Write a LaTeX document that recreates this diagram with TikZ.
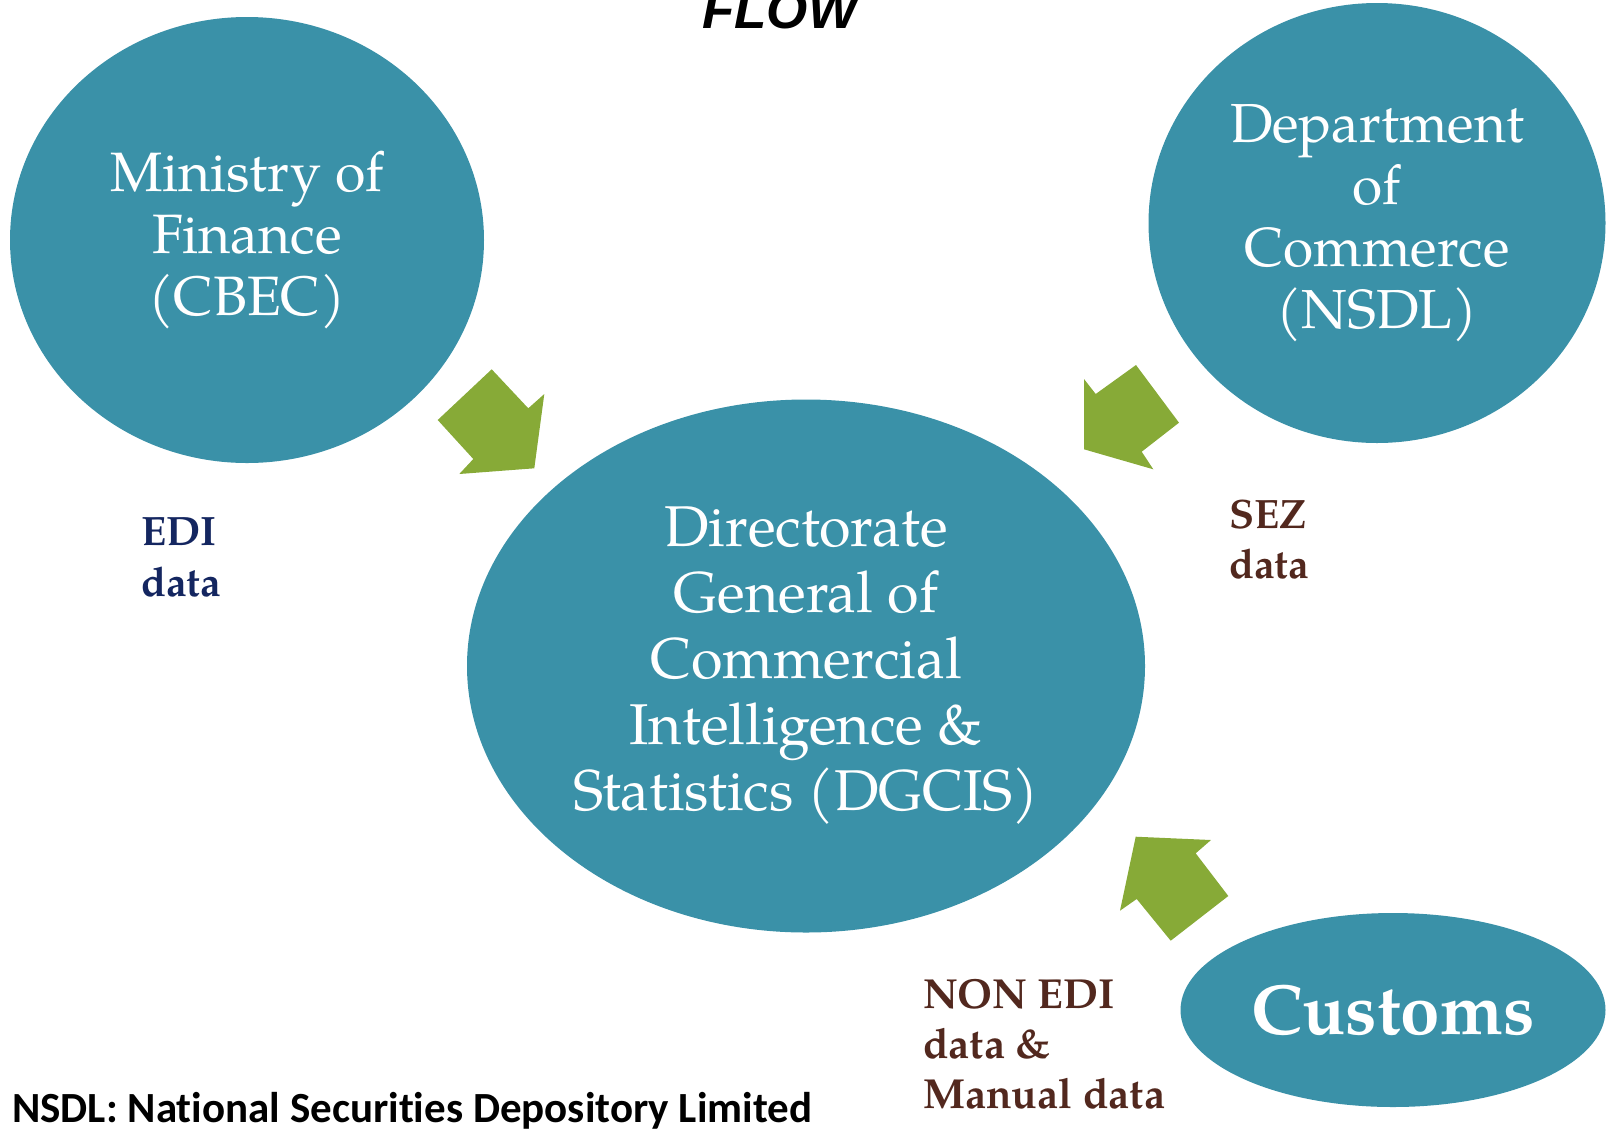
\documentclass[tikz,border=0pt]{standalone}
\usepackage{fontspec}
\usepackage{tikz}
\usetikzlibrary{shapes.geometric}
\newfontfamily\palfont{TeX Gyre Pagella}
\newfontfamily\flowfont{Liberation Sans}
\newfontfamily\notefont{Carlito}[Ligatures=NoCommon]
\definecolor{bubbleteal}{RGB}{58,145,168}
\definecolor{arrowgreen}{RGB}{135,170,55}
\definecolor{edinavy}{RGB}{20,38,96}
\definecolor{sezbrown}{RGB}{82,40,30}

\begin{document}
\begin{tikzpicture}[x=1pt, y=-1pt,
	bubble/.style={ellipse, fill=bubbleteal, text=white, inner sep=0pt, align=center},
	datalabel/.style={inner sep=0pt, align=left, anchor=west},
	blockarrow/.style={fill=arrowgreen}]
	\useasboundingbox (0,0) rectangle (1606,1128);
	\clip (0,0) rectangle (1606,1128);

	\node[anchor=base, inner sep=0pt, font=\flowfont\bfseries\itshape\fontsize{53}{60}\selectfont] (title) at (780,28) {FLOW};

	\node[bubble, minimum width=474, minimum height=446, font=\palfont\fontsize{55.5}{62}\selectfont] (finance) at (247,240) {Ministry of\\Finance\\(CBEC)};
	\node[bubble, minimum width=457, minimum height=440, font=\palfont\fontsize{55}{62}\selectfont] (commerce) at (1377,223) {Department\\of\\Commerce\\(NSDL)};
	\node[bubble, minimum width=678, minimum height=533, font=\palfont\fontsize{57.5}{66}\selectfont] (dgcis) at (806,666) {Directorate\\General of\\Commercial\\Intelligence \&\\Statistics (DGCIS)};
	\node[bubble, minimum width=425, minimum height=194, font=\palfont\bfseries\fontsize{71}{80}\selectfont] (customs) at (1393,1010) {Customs};

	\fill[blockarrow] (491.7,369.3) -- (528.3,408.3) -- (544.3,394) -- (534.3,468.3) -- (459.3,474) -- (473.3,459) -- (437.7,420) -- cycle;
	\fill[blockarrow] (1136,365) -- (1179,422.7) -- (1141.7,451.7) -- (1153.3,469.3) -- (1084,449.3) -- (1084,379) -- (1095.7,394) -- cycle;
	\fill[blockarrow] (1135.7,836.7) -- (1211,840) -- (1195.7,853.3) -- (1228.3,896) -- (1170.7,940.7) -- (1136.7,899) -- (1120,910.7) -- cycle;

	\node[datalabel, text=edinavy, font=\palfont\bfseries\fontsize{41}{51}\selectfont] (edi) at (141,557) {EDI\\data};
	\node[datalabel, text=sezbrown, font=\palfont\bfseries\fontsize{41}{50}\selectfont] (sez) at (1229,540) {SEZ\\data};
	\node[datalabel, text=sezbrown, font=\palfont\bfseries\fontsize{42}{50}\selectfont] (nonedi) at (923,1044) {NON EDI\\data \&\\Manual data};

	\node[anchor=base west, inner sep=0pt, font=\notefont\bfseries\fontsize{43}{48}\selectfont] (note) at (12,1122) {NSDL: National Securities Depository Limited};
\end{tikzpicture}
\end{document}
